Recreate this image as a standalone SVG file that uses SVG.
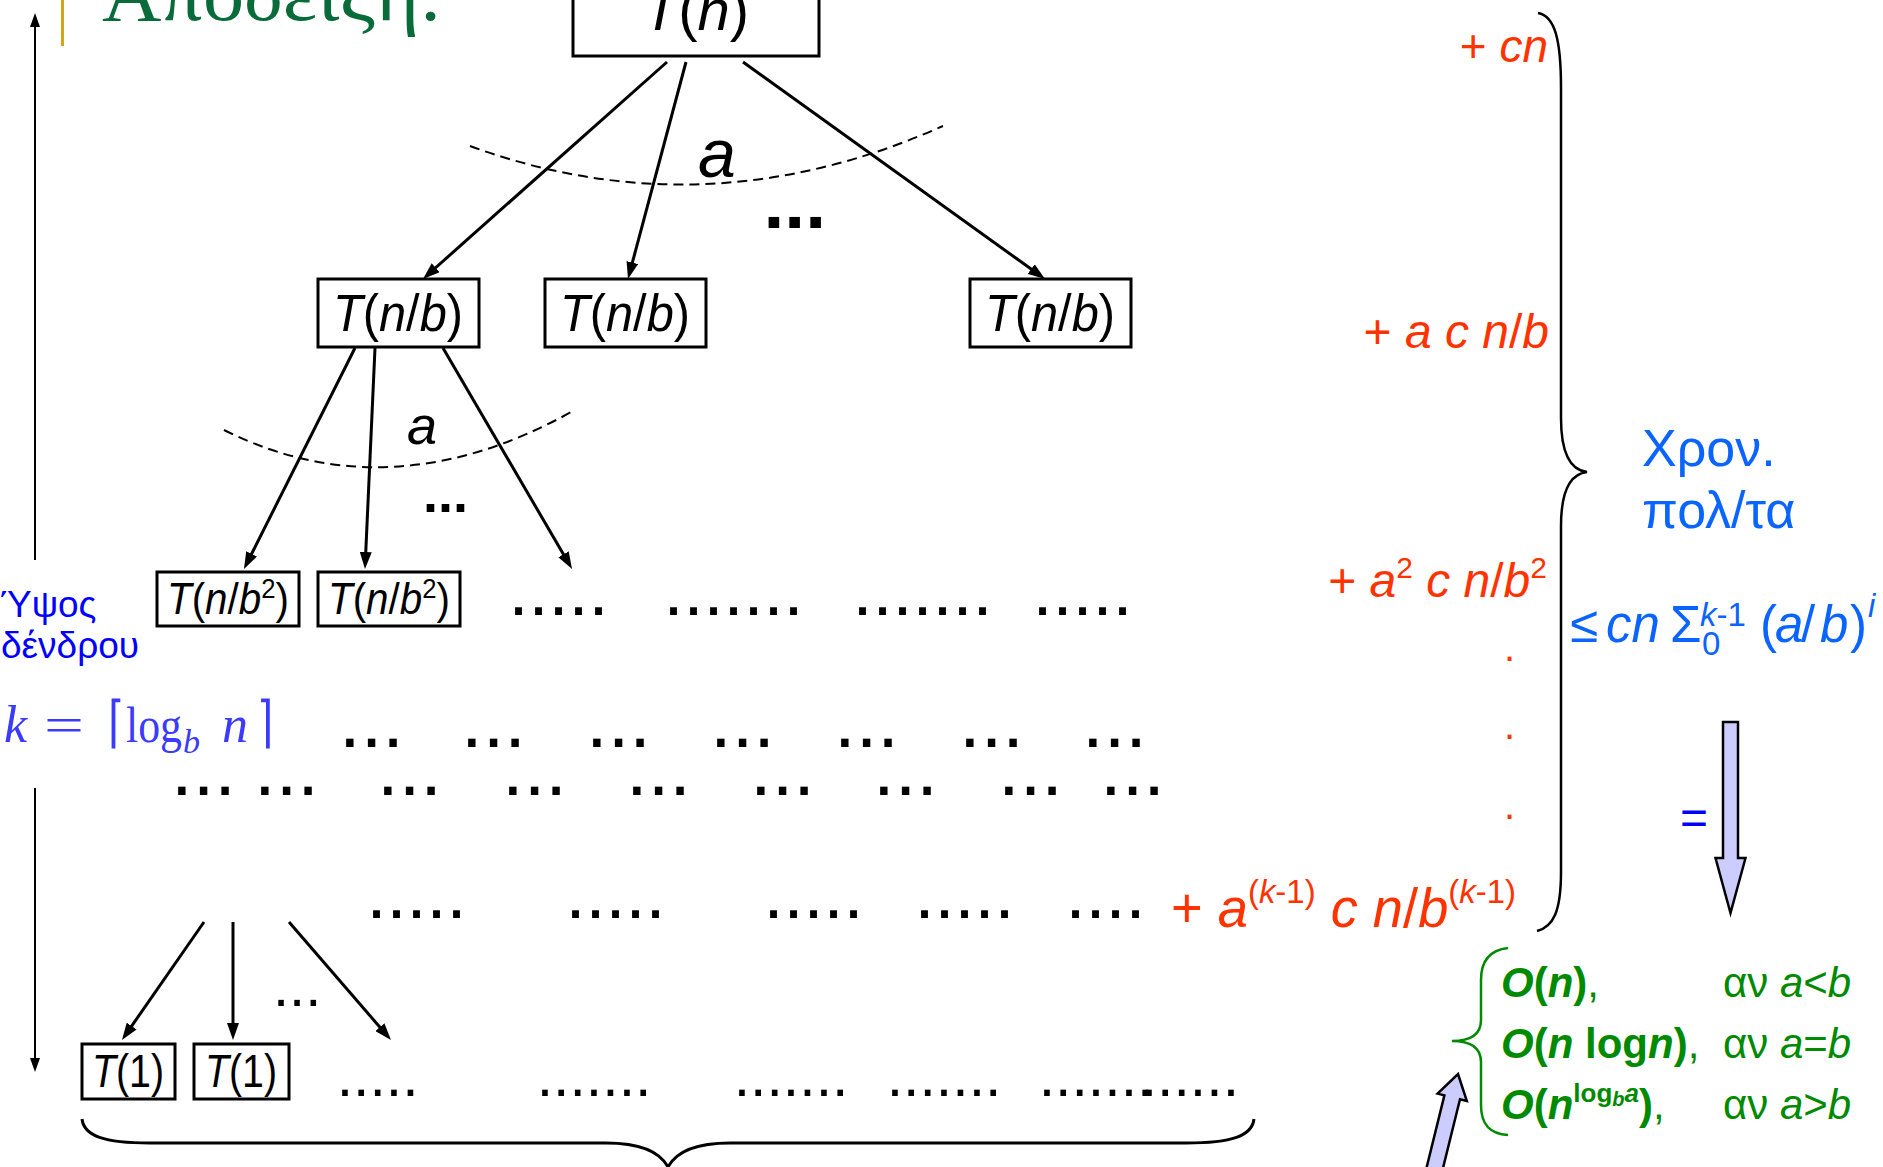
<svg xmlns="http://www.w3.org/2000/svg" width="1883" height="1167" viewBox="0 0 1883 1167">
<style>
  .box { fill: #ffffff; stroke: #000000; stroke-width: 3; }
  .lbl { font-family: "Liberation Sans", Arial, sans-serif; fill: #000000; }
  .it { font-style: italic; }
  .edge { fill: none; stroke: #000000; stroke-width: 3; marker-end: url(#ah); }
  .arc { fill: none; stroke: #000000; stroke-width: 2; stroke-dasharray: 10 6; }
  .dots { font-family: "Liberation Sans", Arial, sans-serif; fill: #000000; }
  .red { font-family: "Liberation Sans", Arial, sans-serif; fill: #ff3300; }
  .blue { font-family: "Liberation Sans", Arial, sans-serif; fill: #0a64ff; }
  .green { font-family: "Liberation Sans", Arial, sans-serif; fill: #008a00; }
</style>
<defs>
  <marker id="ah" viewBox="0 0 17 12" markerUnits="userSpaceOnUse" markerWidth="17" markerHeight="12" refX="8" refY="6" orient="auto">
    <path d="M0,0 L17,6 L0,12 z" fill="#000000"/>
  </marker>
  <marker id="ahs" viewBox="0 0 14 10" markerUnits="userSpaceOnUse" markerWidth="14" markerHeight="10" refX="7" refY="5" orient="auto">
    <path d="M0,0 L14,5 L0,10 z" fill="#000000"/>
  </marker>
</defs>
<rect width="1883" height="1167" fill="#ffffff"/>

<!-- title -->
<g id="title">
  <rect x="61" y="0" width="3" height="46" fill="#d9a21b"/>
  <text x="102" y="20" font-family="'Liberation Serif', 'Times New Roman', serif" font-size="78" fill="#0a6b3a" textLength="340" lengthAdjust="spacingAndGlyphs">Απόδειξη:</text>
</g>

<!-- height axis -->
<g id="height-axis">
  <line x1="35" y1="560" x2="35" y2="20" stroke="#000" stroke-width="2" marker-end="url(#ahs)"/>
  <line x1="35" y1="788" x2="35" y2="1065" stroke="#000" stroke-width="2" marker-end="url(#ahs)"/>
  <text x="0" y="617" font-family="'Liberation Sans', Arial, sans-serif" font-size="37" fill="#0000ff">Ύψος</text>
  <text x="1" y="658" font-family="'Liberation Sans', Arial, sans-serif" font-size="37" fill="#0000ff">δένδρου</text>
</g>
<g id="height-formula" fill="#3b3bff" font-family="'Liberation Serif', 'DejaVu Serif', serif">
  <text x="4" y="742" font-size="52" font-style="italic">k</text>
  <text x="44" y="742" font-size="50" textLength="40" lengthAdjust="spacingAndGlyphs">=</text>
  <text transform="translate(108,741) scale(0.75,1)" font-size="56" font-family="'DejaVu Sans', sans-serif" font-weight="200">⌈</text>
  <text x="126" y="742" font-size="50" textLength="56" lengthAdjust="spacingAndGlyphs">log</text>
  <text x="183" y="753" font-size="34" font-style="italic">b</text>
  <text x="222" y="742" font-size="52" font-style="italic">n</text>
  <text transform="translate(257,741) scale(0.75,1)" font-size="56" font-family="'DejaVu Sans', sans-serif" font-weight="200">⌉</text>
</g>

<!-- connectors -->
<g id="connectors">
  <line class="edge" x1="667" y1="62" x2="429.7" y2="273"/>
  <line class="edge" x1="686" y1="62" x2="630.3" y2="270.3"/>
  <line class="edge" x1="743" y1="62" x2="1037.7" y2="273.8"/>
  <line class="edge" x1="355" y1="348" x2="248" y2="561"/>
  <line class="edge" x1="375" y1="348" x2="365.4" y2="560"/>
  <line class="edge" x1="443" y1="348" x2="567.5" y2="561.2"/>
  <line class="edge" x1="204" y1="922" x2="127.1" y2="1032.6"/>
  <line class="edge" x1="233" y1="922" x2="233" y2="1031"/>
  <line class="edge" x1="289" y1="922" x2="385.1" y2="1033.2"/>
  <path class="arc" d="M470,146 Q705,232 943,126"/>
  <path class="arc" d="M224,430 Q390,513 573,411" stroke-dasharray="9 6"/>
</g>

<!-- nodes -->
<g id="node-Tn">
  <rect class="box" x="573" y="-30" width="246" height="86"/>
  <text class="lbl" x="696" y="30" font-size="58" text-anchor="middle"><tspan class="it">T</tspan>(<tspan class="it">n</tspan>)</text>
</g>
<g id="node-Tnb-1">
  <rect class="box" x="318" y="279" width="161" height="68"/>
  <text class="lbl" x="398" y="331" font-size="52" text-anchor="middle" textLength="130" lengthAdjust="spacingAndGlyphs"><tspan class="it">T</tspan>(<tspan class="it">n</tspan>/<tspan class="it">b</tspan>)</text>
</g>
<g id="node-Tnb-2">
  <rect class="box" x="545" y="279" width="161" height="68"/>
  <text class="lbl" x="625" y="331" font-size="52" text-anchor="middle" textLength="130" lengthAdjust="spacingAndGlyphs"><tspan class="it">T</tspan>(<tspan class="it">n</tspan>/<tspan class="it">b</tspan>)</text>
</g>
<g id="node-Tnb-3">
  <rect class="box" x="970" y="279" width="161" height="68"/>
  <text class="lbl" x="1050" y="331" font-size="52" text-anchor="middle" textLength="130" lengthAdjust="spacingAndGlyphs"><tspan class="it">T</tspan>(<tspan class="it">n</tspan>/<tspan class="it">b</tspan>)</text>
</g>
<g id="node-Tnb2-1">
  <rect class="box" x="157" y="572" width="142" height="54"/>
  <text class="lbl" x="228" y="614" font-size="44" text-anchor="middle" textLength="122" lengthAdjust="spacingAndGlyphs"><tspan class="it">T</tspan>(<tspan class="it">n</tspan>/<tspan class="it">b</tspan><tspan font-size="28" dy="-16">2</tspan><tspan dy="16">)</tspan></text>
</g>
<g id="node-Tnb2-2">
  <rect class="box" x="318" y="572" width="142" height="54"/>
  <text class="lbl" x="389" y="614" font-size="44" text-anchor="middle" textLength="122" lengthAdjust="spacingAndGlyphs"><tspan class="it">T</tspan>(<tspan class="it">n</tspan>/<tspan class="it">b</tspan><tspan font-size="28" dy="-16">2</tspan><tspan dy="16">)</tspan></text>
</g>
<g id="node-T1-1">
  <rect class="box" x="82" y="1044" width="93" height="55"/>
  <text class="lbl" x="128" y="1087" font-size="46" text-anchor="middle" textLength="72" lengthAdjust="spacingAndGlyphs"><tspan class="it">T</tspan>(1)</text>
</g>
<g id="node-T1-2">
  <rect class="box" x="194" y="1044" width="95" height="55"/>
  <text class="lbl" x="241" y="1087" font-size="46" text-anchor="middle" textLength="72" lengthAdjust="spacingAndGlyphs"><tspan class="it">T</tspan>(1)</text>
</g>

<!-- branch labels -->
<g id="branch-labels">
  <text class="lbl it" x="698" y="177" font-size="68">a</text>
  <text class="lbl it" x="407" y="444" font-size="54">a</text>
  <text class="dots" x="763.5" y="228" font-size="75" font-weight="bold">...</text>
  <text class="dots" x="423" y="512" font-size="54" font-weight="bold">...</text>
  <text class="dots" x="273" y="1006" font-size="58">...</text>
</g>

<!-- rows of dots -->
<g id="dot-rows">
  <g font-size="72" class="dots">
    <text x="508.5" y="615">.....</text>
    <text x="663.5" y="615">.......</text>
    <text x="852.5" y="615">.......</text>
    <text x="1032.5" y="615">.....</text>
  </g>
  <g font-size="78" class="dots">
    <text x="339" y="747">...</text>
    <text x="461" y="747">...</text>
    <text x="586" y="747">...</text>
    <text x="710" y="747">...</text>
    <text x="834" y="747">...</text>
    <text x="959" y="747">...</text>
    <text x="1082" y="747">...</text>
  </g>
  <g font-size="78" class="dots">
    <text x="171" y="795">...</text>
    <text x="254" y="795">...</text>
    <text x="377" y="795">...</text>
    <text x="502" y="795">...</text>
    <text x="626" y="795">...</text>
    <text x="750" y="795">...</text>
    <text x="873" y="795">...</text>
    <text x="998" y="795">...</text>
    <text x="1100" y="795">...</text>
  </g>
  <g font-size="72" class="dots">
    <text x="366.5" y="918">.....</text>
    <text x="565.5" y="918">.....</text>
    <text x="763.5" y="918">.....</text>
    <text x="914.5" y="918">.....</text>
    <text x="1065.5" y="918">....</text>
  </g>
  <g font-size="59" class="dots">
    <text x="336.7" y="1096">.....</text>
    <text x="536.7" y="1096">.......</text>
    <text x="733.7" y="1096">.......</text>
    <text x="886.7" y="1096">.......</text>
    <text x="1038.7" y="1096">.......</text>
    <text x="1140.7" y="1096">......</text>
  </g>
</g>

<!-- bottom brace -->
<g id="bottom-brace">
  <path d="M82,1119 C84,1136 104,1143 150,1143 L606,1143 C642,1143 660,1152 668,1167 C676,1152 694,1143 730,1143 L1186,1143 C1232,1143 1252,1136 1254,1119" fill="none" stroke="#000" stroke-width="3"/>
</g>

<!-- level costs -->
<g id="level-costs">
  <text class="red" x="1548" y="62" font-size="46" text-anchor="end">+ <tspan class="it">cn</tspan></text>
  <text class="red" x="1549" y="348" font-size="48" text-anchor="end">+ <tspan class="it">a c n</tspan>/<tspan class="it">b</tspan></text>
  <text class="red" x="1547" y="597" font-size="48" text-anchor="end">+ <tspan class="it">a</tspan><tspan font-size="30" dy="-19">2</tspan><tspan dy="19" class="it"> c n</tspan>/<tspan class="it">b</tspan><tspan font-size="30" dy="-19">2</tspan></text>
  <text class="red" x="1504" y="661" font-size="40">.</text>
  <text class="red" x="1504" y="739" font-size="40">.</text>
  <text class="red" x="1504" y="819" font-size="40">.</text>
  <text class="red" x="1171" y="927" font-size="56" textLength="345" lengthAdjust="spacingAndGlyphs">+ <tspan class="it">a</tspan><tspan font-size="34" dy="-24">(<tspan class="it">k</tspan>-1)</tspan><tspan dy="24" class="it"> c n</tspan>/<tspan class="it">b</tspan><tspan font-size="34" dy="-24">(<tspan class="it">k</tspan>-1)</tspan></text>
</g>

<!-- right brace -->
<g id="sum-brace">
  <path d="M1538,13 C1555,16 1561,40 1561,88 L1561,418 C1561,452 1570,470 1587,472 C1570,474 1561,492 1561,526 L1561,872 C1561,912 1553,927 1537,931" fill="none" stroke="#000" stroke-width="2.5"/>
</g>

<!-- time label and sum -->
<g id="time-label">
  <text class="blue" x="1642" y="466" font-size="52">Χρον.</text>
  <text class="blue" x="1642" y="528" font-size="52">πολ/τα</text>
</g>
<g id="sum-formula">
  <text class="blue" font-size="51">
    <tspan x="1570" y="642">≤</tspan>
    <tspan x="1606" y="642" class="it">cn</tspan>
    <tspan x="1670" y="642">Σ</tspan>
    <tspan x="1702" y="655" font-size="33">0</tspan>
    <tspan x="1700" y="626" font-size="33"><tspan class="it">k</tspan>-1</tspan>
    <tspan x="1760" y="642">(</tspan>
    <tspan x="1775" y="642" class="it">a</tspan>
    <tspan x="1801" y="642">/</tspan>
    <tspan x="1820" y="642" class="it">b</tspan>
    <tspan x="1850" y="642">)</tspan>
    <tspan x="1868" y="617" font-size="33" class="it">i</tspan>
  </text>
</g>
<g id="equals-arrow">
  <text x="1680" y="834" font-family="'Liberation Sans', Arial, sans-serif" font-size="48" fill="#0000ff">=</text>
  <polygon points="1723,722 1738,722 1738,858 1745.5,858 1730.5,913 1715.5,858 1723,858" fill="#ccccff" stroke="#000" stroke-width="2.5" stroke-linejoin="miter"/>
</g>

<!-- result cases -->
<g id="result-cases">
  <path d="M1508,948 C1490,950 1481,960 1481,980 L1481,1020 C1481,1035 1470,1041 1452,1041 C1470,1041 1481,1047 1481,1062 L1481,1105 C1481,1125 1490,1134 1508,1135" fill="none" stroke="#008a00" stroke-width="2.5"/>
  <text class="green" x="1501" y="997" font-size="42"><tspan font-weight="bold" font-style="italic">O</tspan><tspan font-weight="bold">(</tspan><tspan font-weight="bold" font-style="italic">n</tspan><tspan font-weight="bold">)</tspan>,</text>
  <text class="green" x="1501" y="1058" font-size="42"><tspan font-weight="bold" font-style="italic">O</tspan><tspan font-weight="bold">(</tspan><tspan font-weight="bold" font-style="italic">n</tspan><tspan font-weight="bold"> log</tspan><tspan font-weight="bold" font-style="italic">n</tspan><tspan font-weight="bold">)</tspan>,</text>
  <text class="green" x="1501" y="1119" font-size="42"><tspan font-weight="bold" font-style="italic">O</tspan><tspan font-weight="bold">(</tspan><tspan font-weight="bold" font-style="italic">n</tspan><tspan font-weight="bold" font-size="26" dy="-17">log</tspan><tspan font-weight="bold" font-style="italic" font-size="20" dy="4">b</tspan><tspan font-weight="bold" font-style="italic" font-size="26" dy="-4">a</tspan><tspan font-weight="bold" dy="17">)</tspan>,</text>
  <text class="green" x="1723" y="997" font-size="42">αν  <tspan class="it">a</tspan>&lt;<tspan class="it">b</tspan></text>
  <text class="green" x="1723" y="1058" font-size="42">αν  <tspan class="it">a</tspan>=<tspan class="it">b</tspan></text>
  <text class="green" x="1723" y="1119" font-size="42">αν  <tspan class="it">a</tspan>&gt;<tspan class="it">b</tspan></text>
</g>
<g id="up-arrow">
  <polygon points="1458,1074 1466.8,1100.9 1460,1099.2 1434.6,1202.1 1419,1198.3 1444.4,1095.4 1437.6,1093.7" fill="#ccccff" stroke="#000" stroke-width="2.5"/>
</g>
</svg>
